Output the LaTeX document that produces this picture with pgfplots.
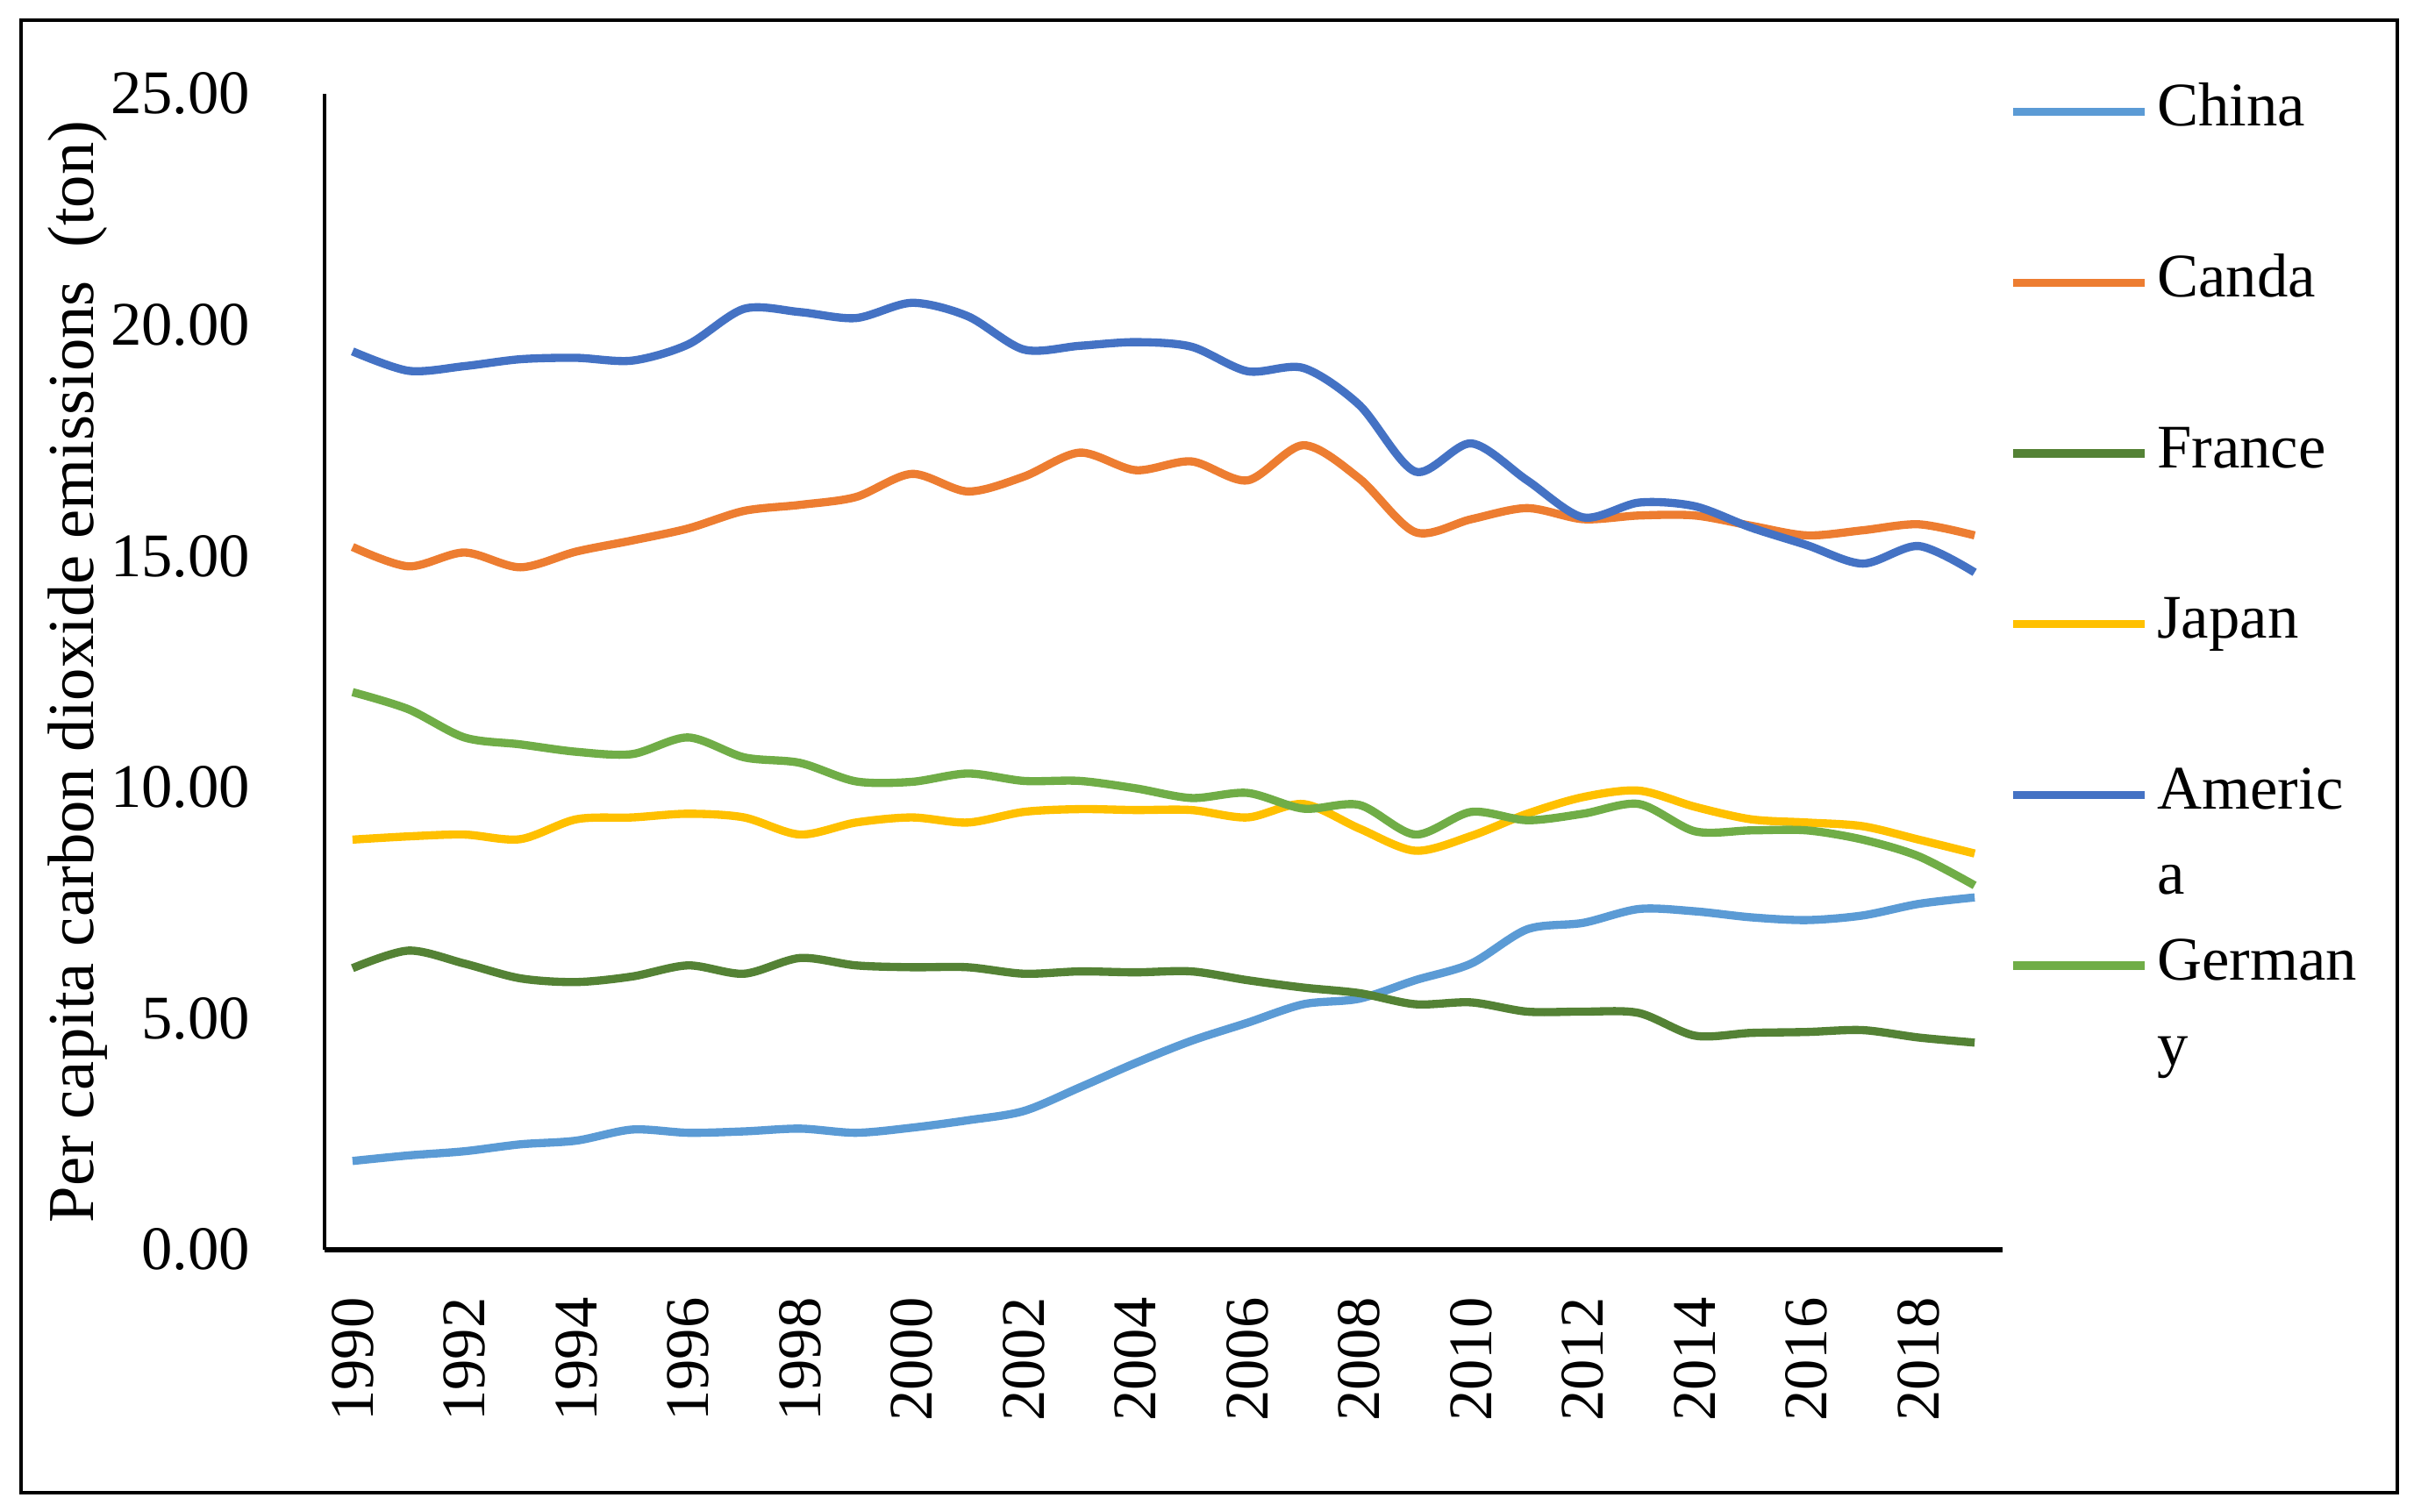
\documentclass[border=0pt]{standalone}
\usepackage{fontspec}
\setmainfont{Liberation Serif}
\usepackage{pgfplots}
\usepackage{pgfplotstable}
\pgfplotsset{compat=1.18}
\definecolor{cChina}{HTML}{5B9BD5}
\definecolor{cCanada}{HTML}{ED7D31}
\definecolor{cFrance}{HTML}{548235}
\definecolor{cJapan}{HTML}{FFC000}
\definecolor{cUSA}{HTML}{4472C4}
\definecolor{cGermany}{HTML}{70AD47}
\pgfplotstableread{
year china canada france japan america germany
1990 1.92 15.20 6.09 8.87 19.43 12.06
1991 2.04 14.78 6.47 8.94 19.01 11.69
1992 2.13 15.08 6.19 8.98 19.11 11.08
1993 2.28 14.76 5.87 8.88 19.26 10.93
1994 2.36 15.10 5.79 9.31 19.29 10.77
1995 2.60 15.34 5.91 9.35 19.23 10.72
1996 2.53 15.60 6.15 9.43 19.58 11.08
1997 2.56 15.98 5.97 9.35 20.35 10.65
1998 2.62 16.11 6.31 8.98 20.28 10.53
1999 2.53 16.28 6.15 9.24 20.15 10.13
2000 2.64 16.78 6.11 9.35 20.48 10.12
2001 2.80 16.40 6.11 9.24 20.19 10.30
2002 3.00 16.72 5.97 9.47 19.47 10.14
2003 3.51 17.24 6.02 9.53 19.55 10.14
2004 4.04 16.86 6.00 9.51 19.63 9.98
2005 4.52 17.05 6.02 9.51 19.53 9.77
2006 4.91 16.64 5.83 9.35 19.00 9.88
2007 5.31 17.40 5.67 9.64 19.07 9.54
2008 5.43 16.68 5.55 9.11 18.27 9.62
2009 5.83 15.52 5.31 8.63 16.83 8.98
2010 6.19 15.80 5.35 8.95 17.44 9.47
2011 6.93 16.04 5.15 9.43 16.64 9.29
2012 7.07 15.80 5.15 9.79 15.84 9.43
2013 7.37 15.88 5.12 9.93 16.16 9.64
2014 7.32 15.88 4.63 9.58 16.08 9.05
2015 7.19 15.66 4.69 9.31 15.62 9.07
2016 7.13 15.45 4.71 9.24 15.24 9.07
2017 7.23 15.56 4.75 9.16 14.84 8.87
2018 7.48 15.69 4.59 8.87 15.22 8.51
2019 7.62 15.45 4.48 8.57 14.65 7.88
}\datatable
\begin{document}
\begin{tikzpicture}
\path[use as bounding box] (-55.5pt,-44.85pt) rectangle (358.5pt,213.75pt);
\draw[line width=0.6pt] (-51.9pt,-41.55pt) rectangle (354.45pt,210.3pt);
\begin{axis}[
  at={(0pt,0pt)}, anchor=south west,
  scale only axis, width=286.95pt, height=197.7pt,
  xmin=1989.5, xmax=2019.5, ymin=0, ymax=25,
  axis x line=bottom, axis y line=left,
  axis line style={-},
  x axis line style={line width=0.8pt},
  y axis line style={line width=0.6pt},
  major tick length=0pt,
  /pgf/number format/assume math mode=true,
  xtick={1990,1992,...,2018},
  ytick={0,5,...,25},
  xticklabel style={rotate=90, anchor=east, inner xsep=8pt, font=\fontsize{10.6}{12}\selectfont, /pgf/number format/1000 sep={}},
  yticklabel style={anchor=east, inner xsep=12.5pt, font=\fontsize{10.6}{12}\selectfont, /pgf/number format/.cd, fixed, fixed zerofill, precision=2},
  ylabel={Per capita carbon dioxide emissions~~(ton)},
  ylabel style={at={(axis description cs:-0.147,0.5)}, anchor=center, font=\fontsize{11.2}{13}\selectfont},
  legend cell align=left,
  legend style={at={(1.003,1.0095)}, anchor=north west, draw=none, fill=none,
    font=\fontsize{10.6}{12}\selectfont, row sep=5pt, inner sep=0pt,
    nodes={inner xsep=1.5pt, inner ysep=0pt, text height=7.2pt, text depth=2.4pt}},
  legend image code/.code={\draw[#1] (0pt,0pt) -- (22.5pt,0pt);},
  every axis plot/.append style={line width=1.4pt, smooth, no markers},
]
\addplot[cChina] table[x=year, y=china] {\datatable};
\addlegendentry{China}
\addlegendimage{empty legend}\addlegendentry{\phantom{C}}
\addplot[cCanada] table[x=year, y=canada] {\datatable};
\addlegendentry{Canda}
\addlegendimage{empty legend}\addlegendentry{\phantom{C}}
\addplot[cFrance] table[x=year, y=france] {\datatable};
\addlegendentry{France}
\addlegendimage{empty legend}\addlegendentry{\phantom{C}}
\addplot[cJapan] table[x=year, y=japan] {\datatable};
\addlegendentry{Japan}
\addlegendimage{empty legend}\addlegendentry{\phantom{C}}
\addplot[cUSA] table[x=year, y=america] {\datatable};
\addlegendentry{Americ}
\addlegendimage{empty legend}\addlegendentry{a}
\addplot[cGermany] table[x=year, y=germany] {\datatable};
\addlegendentry{German}
\addlegendimage{empty legend}\addlegendentry{y}
\end{axis}
\end{tikzpicture}
\end{document}
